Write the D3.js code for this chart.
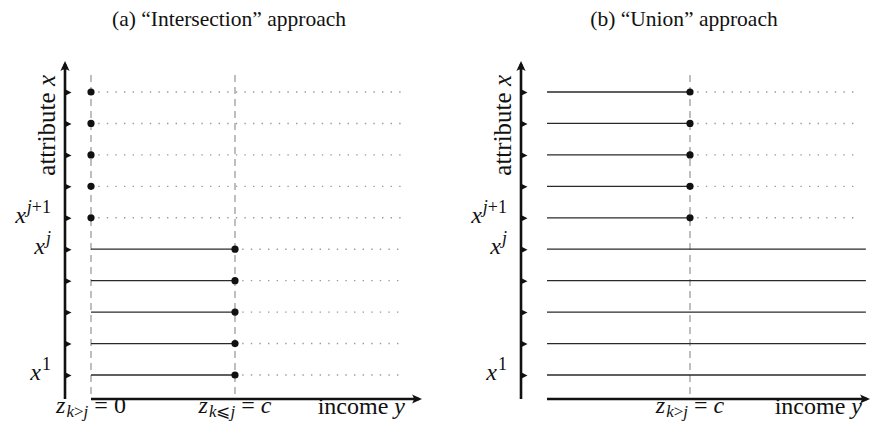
<!DOCTYPE html>
<html>
<head>
<meta charset="utf-8">
<script src="https://cdn.jsdelivr.net/npm/d3@7"></script>
<style>
  html, body { margin: 0; padding: 0; background: #fff; }
  svg { display: block; }
  text { font-family: "Liberation Serif", "DejaVu Serif", serif; fill: #111; }
</style>
</head>
<body>
<svg id="chart" width="874" height="424" font-family="Liberation Serif, DejaVu Serif, serif"></svg>
<script>
// Attribute levels x^1 ... x^10, threshold level j and poverty line c
const rows = [1, 2, 3, 4, 5, 6, 7, 8, 9, 10];
const jLevel = 5;
const cLine = 1;
// Income reach of the full lines and of the dotted guides
const solidEnd = 2.23;
const dottedEnd = 2.17;

// Intersection approach: poor up to c for levels <= j, only at 0 above j
const interEnds = [1, 1, 1, 1, 1, 0, 0, 0, 0, 0];
// Union approach: poor everywhere for levels <= j, up to c above j
const unionEnds = [2.23, 2.23, 2.23, 2.23, 2.23, 1, 1, 1, 1, 1];

// Labelled attribute levels
const tickRows = [1, 5, 6];
const tickSups = ["1", "j", "j+1"];

const titles = ["(a) \u201CIntersection\u201D approach", "(b) \u201CUnion\u201D approach"];

const svg = d3.select("#chart");

const y = d3.scaleLinear().domain([1, 10]).range([375, 92]);
const axisY = 399;      // baseline of the income axis
const axisTop = 61;     // tip of the attribute arrow
const dashTop = 75;
const labelBase = 413;  // baseline of the labels under the income axis

const panels = [
  { title: titles[0], ends: interEnds, axisX: 65, x0: 91, xc: 235, tip: 422, cx: 229,
    dashes: [0, cLine], dotsAt: rows.map((r, i) => interEnds[i]),
    zLabels: [{ v: 0, sub: [["k", "i"], [">", ""], ["j", "i"]], rhs: "0" },
              { v: cLine, sub: [["k", "i"], ["\u2A7D", ""], ["j", "i"]], rhs: "c" }],
    incomeEnd: 405 },
  { title: titles[1], ends: unionEnds, axisX: 521, x0: 547, xc: 690, tip: 870, cx: 684,
    dashes: [cLine], dotsAt: rows.map((r, i) => unionEnds[i] <= cLine ? unionEnds[i] : null),
    zLabels: [{ v: cLine, sub: [["k", "i"], [">", ""], ["j", "i"]], rhs: "c" }],
    incomeEnd: 862 }
];

function arrowHead(g, x, yy, angle) {
  g.append("path")
    .attr("d", "M0,0 L-10,-4.6 Q-6.5,0 -10,4.6 Z")
    .attr("transform", `translate(${x},${yy}) rotate(${angle})`)
    .attr("fill", "#111");
}

panels.forEach(p => {
  const g = svg.append("g");
  const x = d3.scaleLinear().domain([0, cLine]).range([p.x0, p.xc]);

  // title
  g.append("text")
    .attr("x", p.cx).attr("y", 26)
    .attr("text-anchor", "middle")
    .attr("font-size", 21.5)
    .text(p.title);

  // dashed reference verticals
  g.selectAll("line.dash").data(p.dashes).join("line")
    .attr("class", "dash")
    .attr("x1", d => x(d)).attr("x2", d => x(d))
    .attr("y1", dashTop).attr("y2", axisY)
    .attr("stroke", "#8a8a8a").attr("stroke-width", 1.1)
    .attr("stroke-dasharray", "7,5");

  // dotted guides from the end of each segment
  g.selectAll("line.dot").data(rows).join("line")
    .attr("class", "dot")
    .attr("x1", (r, i) => x(Math.min(p.ends[i], cLine)))
    .attr("x2", x(dottedEnd))
    .attr("y1", r => y(r)).attr("y2", r => y(r))
    .attr("stroke", "#9a9a9a").attr("stroke-width", 1.4)
    .attr("stroke-dasharray", "1.4,7.2").attr("stroke-dashoffset", 1.4)
    .attr("display", (r, i) => p.ends[i] >= solidEnd ? "none" : null);

  // solid segments
  g.selectAll("line.seg").data(rows.filter((r, i) => p.ends[i] > 0)).join("line")
    .attr("class", "seg")
    .attr("x1", x(0))
    .attr("x2", r => x(p.ends[rows.indexOf(r)]))
    .attr("y1", r => y(r)).attr("y2", r => y(r))
    .attr("stroke", "#2a2a2a").attr("stroke-width", 1.3);

  // end points
  g.selectAll("circle").data(rows.filter((r, i) => p.dotsAt[i] !== null)).join("circle")
    .attr("cx", r => x(p.dotsAt[rows.indexOf(r)]))
    .attr("cy", r => y(r))
    .attr("r", 3.6).attr("fill", "#111");

  // attribute axis with triangular ticks
  const ya = g.append("g").attr("transform", `translate(${p.axisX},0)`)
    .call(d3.axisRight(y).tickValues(rows).tickSize(0).tickFormat(""));
  ya.select(".domain").remove();
  ya.selectAll(".tick").append("path")
    .attr("d", "M0,-3.2 L6.5,0 L0,3.2 Z").attr("fill", "#111");
  g.append("line")
    .attr("x1", p.axisX).attr("x2", p.axisX)
    .attr("y1", axisY).attr("y2", axisTop + 3)
    .attr("stroke", "#111").attr("stroke-width", 2.6);
  arrowHead(g, p.axisX, axisTop, -90);

  // attribute labels
  g.selectAll("text.tl").data(tickRows).join("text")
    .attr("class", "tl")
    .attr("x", p.axisX - 14).attr("y", r => y(r) + 5)
    .attr("text-anchor", "end")
    .attr("font-size", 24)
    .each(function (r, i) {
      const t = d3.select(this);
      t.append("tspan").attr("font-style", "italic").text("x");
      const sup = tickSups[i];
      sup.split(/(\+1)/).filter(s => s).forEach((s, k) => {
        const ts = t.append("tspan").attr("font-size", 18).text(s);
        if (k === 0) ts.attr("dy", -10).attr("dx", 1);
        if (s === "j") ts.attr("font-style", "italic");
      });
    });

  // axis title
  const at = g.append("text")
    .attr("transform", `translate(${p.axisX - 10},${dashTop}) rotate(-90)`)
    .attr("text-anchor", "end")
    .attr("font-size", 25);
  at.append("tspan").text("attribute ");
  at.append("tspan").attr("font-style", "italic").text("x");

  // income axis
  const xa = g.append("g").attr("transform", `translate(0,${axisY})`)
    .call(d3.axisBottom(x).tickValues([]).tickSizeOuter(0));
  xa.select(".domain").remove();
  g.append("line")
    .attr("x1", p.x0).attr("x2", p.tip - 3)
    .attr("y1", axisY).attr("y2", axisY)
    .attr("stroke", "#111").attr("stroke-width", 2.6);
  arrowHead(g, p.tip, axisY, 0);

  // threshold labels under the axis
  p.zLabels.forEach(z => {
    const t = g.append("text")
      .attr("x", x(z.v)).attr("y", labelBase)
      .attr("text-anchor", "middle")
      .attr("font-size", 24);
    t.append("tspan").attr("font-style", "italic").text("z");
    z.sub.forEach((s, k) => {
      const ts = t.append("tspan").attr("font-size", 17).text(s[0]);
      if (k === 0) ts.attr("dy", 4).attr("dx", 1);
      if (s[1] === "i") ts.attr("font-style", "italic");
    });
    t.append("tspan").attr("dy", -4).text(" = ");
    const r = t.append("tspan").text(z.rhs);
    if (z.rhs === "c") r.attr("font-style", "italic");
  });

  const inc = g.append("text")
    .attr("x", p.incomeEnd).attr("y", labelBase + 1)
    .attr("text-anchor", "end")
    .attr("font-size", 24);
  inc.append("tspan").text("income ");
  inc.append("tspan").attr("font-style", "italic").text("y");
});
</script>
</body>
</html>
